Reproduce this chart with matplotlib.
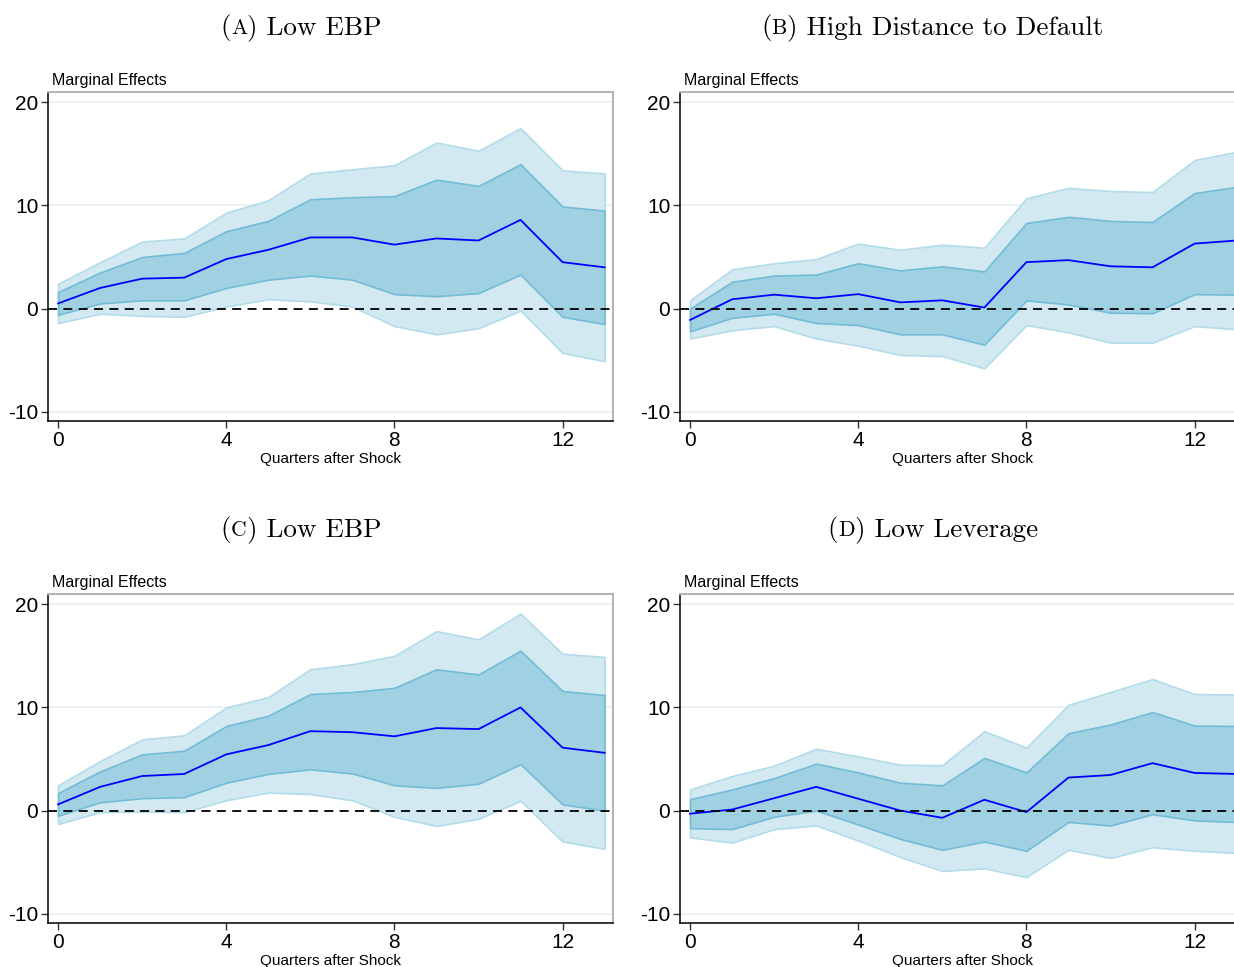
import matplotlib
matplotlib.use("Agg")
import matplotlib.pyplot as plt

# quarters after the shock
quarters = list(range(14))

# (A) Low EBP
a_mean = [0.5, 2.0, 2.9, 3.0, 4.8, 5.7, 6.9, 6.9, 6.2, 6.8, 6.6, 8.6, 4.5, 4.0]
a_in_hi = [1.6, 3.5, 5.0, 5.4, 7.5, 8.5, 10.6, 10.8, 10.9, 12.5, 11.9, 14.0, 9.9, 9.5]
a_in_lo = [-0.6, 0.5, 0.8, 0.8, 2.0, 2.8, 3.2, 2.8, 1.4, 1.2, 1.5, 3.3, -0.8, -1.5]
a_out_hi = [2.4, 4.5, 6.5, 6.8, 9.3, 10.5, 13.1, 13.5, 13.9, 16.1, 15.3, 17.5, 13.4, 13.1]
a_out_lo = [-1.4, -0.5, -0.7, -0.8, 0.2, 0.9, 0.7, 0.2, -1.7, -2.5, -1.9, -0.2, -4.3, -5.1]

# (B) High Distance to Default
b_mean = [-1.1, 0.9, 1.35, 1.0, 1.4, 0.6, 0.8, 0.1, 4.5, 4.7, 4.1, 4.0, 6.3, 6.6]
b_in_hi = [0.0, 2.6, 3.2, 3.3, 4.4, 3.7, 4.1, 3.6, 8.3, 8.9, 8.5, 8.4, 11.2, 11.8]
b_in_lo = [-2.2, -0.9, -0.5, -1.4, -1.6, -2.5, -2.5, -3.5, 0.8, 0.4, -0.4, -0.45, 1.4, 1.35]
b_out_hi = [0.8, 3.8, 4.4, 4.8, 6.3, 5.7, 6.2, 5.9, 10.7, 11.7, 11.4, 11.3, 14.4, 15.2]
b_out_lo = [-2.9, -2.1, -1.7, -2.9, -3.6, -4.5, -4.6, -5.8, -1.6, -2.3, -3.3, -3.3, -1.7, -2.0]

# (C) Low EBP
c_mean = [0.6, 2.3, 3.35, 3.55, 5.45, 6.35, 7.7, 7.6, 7.2, 8.0, 7.9, 10.0, 6.1, 5.6]
c_in_hi = [1.7, 3.8, 5.45, 5.8, 8.2, 9.2, 11.3, 11.5, 11.9, 13.7, 13.2, 15.5, 11.6, 11.2]
c_in_lo = [-0.5, 0.8, 1.2, 1.3, 2.7, 3.55, 4.0, 3.6, 2.45, 2.2, 2.6, 4.5, 0.6, 0.0]
c_out_hi = [2.45, 4.8, 6.9, 7.3, 10.0, 11.0, 13.7, 14.2, 15.0, 17.4, 16.6, 19.1, 15.2, 14.9]
c_out_lo = [-1.3, -0.15, -0.1, -0.15, 1.0, 1.75, 1.6, 1.0, -0.6, -1.5, -0.8, 0.95, -3.0, -3.7]

# (D) Low Leverage
d_mean = [-0.3, 0.1, 1.2, 2.3, 1.15, 0.0, -0.7, 1.05, -0.15, 3.2, 3.45, 4.6, 3.65, 3.55]
d_in_hi = [1.1, 2.05, 3.15, 4.55, 3.7, 2.7, 2.45, 5.1, 3.7, 7.5, 8.35, 9.55, 8.25, 8.2]
d_in_lo = [-1.7, -1.8, -0.6, 0.0, -1.35, -2.75, -3.8, -3.0, -3.9, -1.1, -1.45, -0.35, -0.95, -1.1]
d_out_hi = [2.05, 3.35, 4.35, 6.0, 5.25, 4.45, 4.4, 7.7, 6.1, 10.25, 11.5, 12.75, 11.3, 11.25]
d_out_lo = [-2.6, -3.1, -1.8, -1.45, -2.9, -4.5, -5.85, -5.6, -6.45, -3.8, -4.6, -3.55, -3.9, -4.1]

panel_letters = ["A", "B", "C", "D"]
panel_names = ["Low EBP", "High Distance to Default", "Low EBP", "Low Leverage"]
x_ticks = [0, 4, 8, 12]
y_ticks = [-10, 0, 10, 20]
y_ticklabels = ["-10", "0", "10", "20"]

panels = [
    (a_mean, a_in_lo, a_in_hi, a_out_lo, a_out_hi),
    (b_mean, b_in_lo, b_in_hi, b_out_lo, b_out_hi),
    (c_mean, c_in_lo, c_in_hi, c_out_lo, c_out_hi),
    (d_mean, d_in_lo, d_in_hi, d_out_lo, d_out_hi),
]

W, H = 1234, 967
fig = plt.figure(figsize=(W / 100, H / 100), dpi=100)
sans = "Liberation Sans"

# axes rectangles in pixels: left, top, right, bottom
boxes = [(48, 92, 613, 421), (680, 92, 1245, 421),
         (48, 594, 613, 923), (680, 594, 1245, 923)]
title_pos = [(301, 27), (932, 27), (301, 529), (933, 529)]


def smallcaps_title(cx, cy, letter, rest, size):
    # "(A) Name" with the letter in small caps, centred on cx
    r = fig.canvas.get_renderer()
    pieces = [("(", size), (letter, size * 0.8), (") " + rest, size)]
    texts = []
    widths = []
    for s, fs in pieces:
        t = fig.text(0, 0, s, fontsize=fs, family="cmr10", ha="left", va="baseline")
        texts.append(t)
        widths.append(t.get_window_extent(r).width)
    x = cx - sum(widths) / 2
    base = cy + 7
    for t, w in zip(texts, widths):
        t.set_position((x / W, 1 - base / H))
        x += w


for i, (mean, in_lo, in_hi, out_lo, out_hi) in enumerate(panels):
    l, t, r_, b = boxes[i]
    ax = fig.add_axes([l / W, 1 - b / H, (r_ - l) / W, (b - t) / H])
    ax.fill_between(quarters, out_lo, out_hi, facecolor="#d3e9f1",
                    edgecolor="#b2dcea", linewidth=1.2, zorder=2)
    ax.fill_between(quarters, in_lo, in_hi, facecolor="#9fd1e2",
                    edgecolor="#72bcd6", linewidth=1.2, zorder=3)
    ax.plot(quarters, mean, color="#0000ff", linewidth=1.3, zorder=4)
    ax.axhline(0, color="black", linestyle=(0, (5, 3.5)), linewidth=1.3, zorder=5)

    for yv in y_ticks:
        if yv != 0:
            ax.axhline(yv, color="#eaf2f4", linewidth=1.5, zorder=1)

    ax.set_xlim(-0.24, 13.2)
    ax.set_ylim(-10.9, 21.0)
    ax.set_xticks(x_ticks)
    ax.set_xticklabels([str(v) for v in x_ticks], fontsize=15, family=sans)
    ax.set_yticks(y_ticks)
    ax.set_yticklabels(y_ticklabels, fontsize=15, family=sans)
    ax.tick_params(direction="out", length=5, width=1, pad=2, color="#333333")

    for side in ["left", "bottom"]:
        ax.spines[side].set_color("black")
        ax.spines[side].set_linewidth(1.1)
    for side in ["top", "right"]:
        ax.spines[side].set_color("#b5b5b5")
        ax.spines[side].set_linewidth(1.5)

    ax.set_xlabel("Quarters after Shock", fontsize=11, family=sans, labelpad=2)
    ax.text(0.007, 1.012, "Marginal Effects", transform=ax.transAxes,
            fontsize=11.5, family=sans, ha="left", va="bottom")

    smallcaps_title(title_pos[i][0], title_pos[i][1], panel_letters[i], panel_names[i], 19.5)

fig.savefig("out.png", dpi=100)
